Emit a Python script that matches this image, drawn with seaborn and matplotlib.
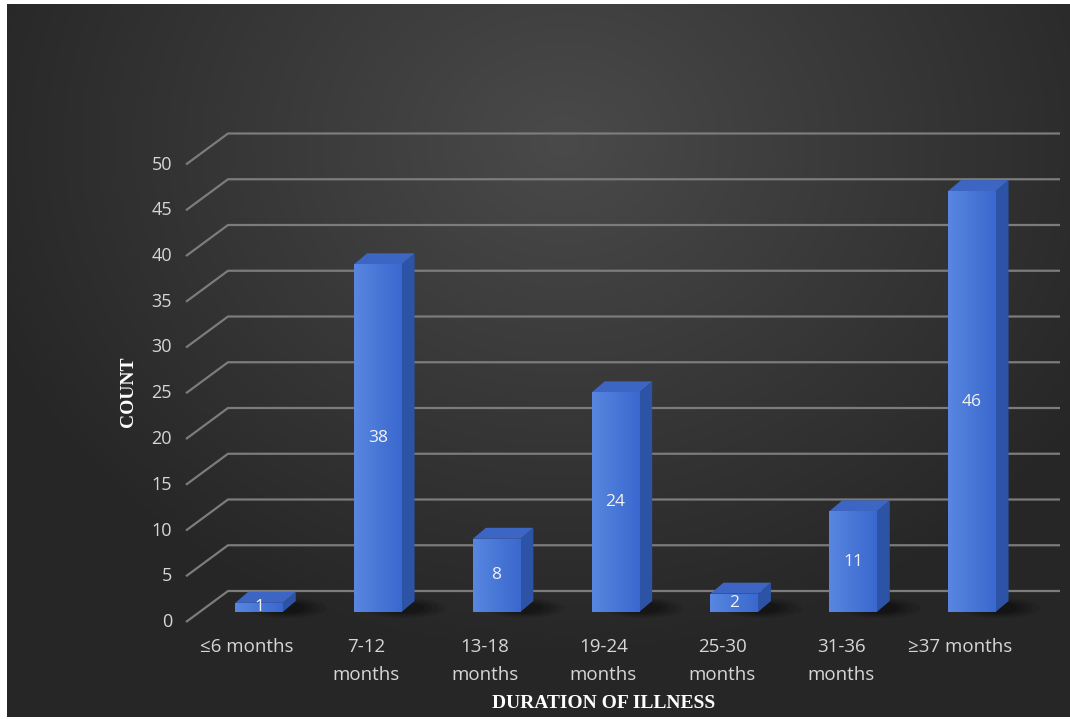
import numpy as np
import pandas as pd
import matplotlib
matplotlib.use("Agg")
import matplotlib.pyplot as plt
import seaborn as sns
from matplotlib.patches import Polygon, Ellipse

# ---- data ----
categories = ["≤6 months", "7-12\nmonths", "13-18\nmonths", "19-24\nmonths",
              "25-30\nmonths", "31-36\nmonths", "≥37 months"]
counts = [1, 38, 8, 24, 2, 11, 46]
y_ticks = [0, 5, 10, 15, 20, 25, 30, 35, 40, 45, 50]

W, H = 1070, 719
FRONT_L = np.array([88, 134, 224]) / 255
FRONT_R = np.array([58, 104, 206]) / 255
SIDE = "#2d53a6"
TOP = "#3d66c4"
GRID = "#7c7c7c"
TEXT = "#d6d6d6"

sns.set_theme(style="white")
plt.rcParams["font.family"] = ["Open Sans", "DejaVu Sans"]

fig = plt.figure(figsize=(W / 100, H / 100), dpi=100, facecolor="white")

# dark radial backdrop
bg = fig.add_axes([7 / W, 2 / H, 1 - 7 / W, 1 - 6 / H])
yy, xx = np.mgrid[0:H, 0:W]
r = np.sqrt(((xx - 560) / 620.0) ** 2 + ((yy - 140) / 520.0) ** 2)
shade = np.clip(0.29 - 0.14 * r, 0.15, 0.30)
bg.imshow(np.dstack([shade] * 3), aspect="auto", interpolation="bilinear")
bg.axis("off")

ax = fig.add_axes([0, 0, 1, 1])
ax.patch.set_alpha(0)

df = pd.DataFrame({"duration": categories, "count": counts})
sns.barplot(data=df, x="duration", y="count", ax=ax, width=0.4,
            color=FRONT_R, saturation=1, linewidth=0, edgecolor="none", zorder=3)

# axis geometry: 118.8 px per category, 9.15 px per count, baseline at 612 px
px_x = 118.8
px_y = 9.15
xmin = -259 / px_x
ymin = -(H - 612) / px_y
ax.set_xlim(xmin, xmin + W / px_x)
ax.set_ylim(ymin, ymin + H / px_y)
ax.axis("off")

def dx(p):
    return p / px_x

def dy(p):
    return p / px_y

# back wall gridlines with the slanted side-wall segments
for v in y_ticks:
    yb = v + dy(21)
    ax.plot([xmin + dx(186), xmin + dx(228), xmin + dx(1060)],
            [yb - dy(31), yb, yb], color=GRID, lw=1.6, zorder=1,
            solid_capstyle="butt")
    ax.text(xmin + dx(172), yb - dy(31), str(v), ha="right", va="center",
            fontsize=13, color=TEXT)

# 3-D faces, floor shadows and gradient fronts
ddx, ddy = dx(13), dy(11)
grad = np.linspace(0, 1, 64)
grad_img = (FRONT_L[None, :] * (1 - grad[:, None]) + FRONT_R[None, :] * grad[:, None])[None, :, :]
for bar in ax.patches:
    x0 = bar.get_x()
    x1 = x0 + bar.get_width()
    h = bar.get_height()
    for k, a in enumerate([0.09, 0.11, 0.14, 0.18]):
        ax.add_patch(Ellipse((x1 + dx(4), dy(4)), dx(80 - 14 * k), dy(20 - 3 * k),
                             color="black", alpha=a, lw=0, zorder=2))
    ax.add_patch(Polygon([(x1, 0), (x1 + ddx, ddy), (x1 + ddx, h + ddy), (x1, h)],
                         closed=True, fc=SIDE, ec="none", zorder=3))
    ax.add_patch(Polygon([(x0, h), (x1, h), (x1 + ddx, h + ddy), (x0 + ddx, h + ddy)],
                         closed=True, fc=TOP, ec="none", zorder=3))
    im = ax.imshow(grad_img, extent=(x0, x1, 0, h), aspect="auto",
                   interpolation="bilinear", zorder=3.5)
    im.set_clip_path(bar)

ax.bar_label(ax.containers[0], labels=[str(c) for c in counts],
             label_type="center", color="#f2f2f2", fontsize=12.5, zorder=5)

# category labels
for i, lab in enumerate(categories):
    ax.text(i - dx(12), -dy(26), lab, ha="center", va="top", fontsize=13.5,
            color=TEXT, linespacing=1.75)

fig.text(128 / W, 1 - 392 / H, "COUNT", rotation=90, ha="center", va="center",
         fontsize=14, fontweight="bold", color="white", family="Liberation Serif")
fig.text(604 / W, 1 - 704 / H, "DURATION OF ILLNESS", ha="center", va="center",
         fontsize=14, fontweight="bold", color="white", family="Liberation Serif")

fig.savefig("out.png", dpi=100, facecolor="white")
